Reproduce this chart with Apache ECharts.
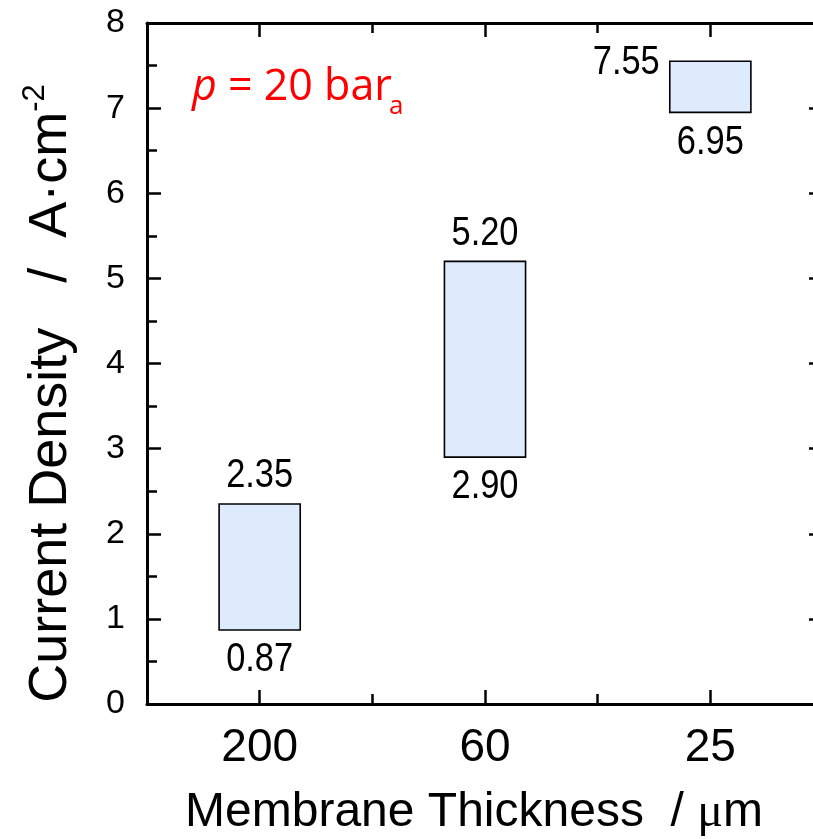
<!DOCTYPE html>
<html>
<head>
<meta charset="utf-8">
<script src="https://cdn.jsdelivr.net/npm/echarts@6/dist/echarts.min.js"></script>
<style>
  html, body { margin: 0; padding: 0; background: #fff; }
  #chart { width: 813px; height: 839px; }
</style>
</head>
<body>
<div id="chart"></div>
<script>
// Membrane thickness categories (µm) and the current-density window for each
const thickness = ['200', '60', '25'];
const lowerCD = [0.87, 2.90, 6.95];
const upperCD = [2.35, 5.20, 7.55];
const yTicks = [0, 1, 2, 3, 4, 5, 6, 7, 8];

const SANS = "'Liberation Sans', Arial, sans-serif";

const boxData = thickness.map((t, i) => [i, lowerCD[i], upperCD[i]]);

const chart = echarts.init(document.getElementById('chart'), null, { renderer: 'canvas' });

function axisLine() { return { show: true, onZero: false, lineStyle: { color: '#000', width: 3 } }; }
function noLine() { return { show: false, onZero: false }; }
function tick(len, extra) {
  return Object.assign({ show: true, inside: true, length: len, lineStyle: { color: '#000', width: 2.5 } }, extra || {});
}
function off() { return { show: false }; }

function fmt(v) { return v.toFixed(2); }

// condensed value label: regular sans squeezed horizontally
function valueLabel(text, x, y, align) {
  return {
    type: 'text', x: x, y: y, scaleX: 0.84,
    style: {
      text: text, x: 0, y: 0, align: align, verticalAlign: 'middle',
      font: '41px ' + SANS, fill: '#000'
    }
  };
}

function renderBox(params, api) {
  const idx = api.value(0);
  const lo = api.value(1);
  const hi = api.value(2);
  const pLo = api.coord([idx, lo]);
  const pHi = api.coord([idx, hi]);
  const band = api.size([1, 0])[0];
  const w = band * 0.36;
  const x0 = pLo[0] - w / 2;
  const children = [{
    type: 'rect',
    shape: { x: x0, y: pHi[1], width: w, height: pLo[1] - pHi[1] },
    style: { fill: '#deebfc', stroke: '#000', lineWidth: 1.6 }
  }];
  // upper limit sits above the box, or to its left when the box is close to the frame
  if (hi > 7) {
    children.push(valueLabel(fmt(hi), x0 - 10, pHi[1] + 1, 'right'));
  } else {
    children.push(valueLabel(fmt(hi), pHi[0], pHi[1] - 28, 'center'));
  }
  children.push(valueLabel(fmt(lo), pLo[0], pLo[1] + 30, 'center'));
  return { type: 'group', children: children };
}

// two grids on the same rectangle: grid 0 carries the frame, labels and major ticks,
// grid 1 only carries the short minor ticks
const gridBox = { left: 147, top: 23, width: 676, height: 681, show: false, outerBoundsMode: 'none', containLabel: false };
const yMin = yTicks[0];
const yMax = yTicks[yTicks.length - 1];

const option = {
  animation: false,
  backgroundColor: '#fff',
  grid: [Object.assign({}, gridBox), Object.assign({}, gridBox)],
  xAxis: [
    {
      gridIndex: 0, type: 'category', data: thickness, position: 'bottom', boundaryGap: true,
      axisLine: axisLine(),
      axisTick: tick(14, { alignWithLabel: true }),
      axisLabel: { fontSize: 46, color: '#000', fontFamily: SANS, margin: 21 },
      splitLine: off(),
      name: 'Membrane Thickness  / {mu|\u03bc}m',
      nameLocation: 'middle', nameGap: 85,
      nameTextStyle: {
        fontSize: 48, color: '#000', fontFamily: SANS, padding: [0, 22, 0, 0],
        rich: { mu: { fontSize: 48, color: '#000', fontFamily: "'Liberation Serif', 'Times New Roman', serif" } }
      }
    },
    {
      gridIndex: 0, type: 'category', data: thickness, position: 'top', boundaryGap: true,
      axisLine: axisLine(),
      axisTick: tick(14, { alignWithLabel: true }),
      axisLabel: off(), splitLine: off()
    },
    {
      gridIndex: 1, type: 'value', min: 0, max: 3, interval: 1, position: 'bottom',
      axisLine: noLine(), axisTick: tick(10), axisLabel: off(), splitLine: off()
    },
    {
      gridIndex: 1, type: 'value', min: 0, max: 3, interval: 1, position: 'top',
      axisLine: noLine(), axisTick: tick(10), axisLabel: off(), splitLine: off()
    }
  ],
  yAxis: [
    {
      gridIndex: 0, type: 'value', min: yMin, max: yMax, interval: 1, position: 'left',
      axisLine: axisLine(), axisTick: tick(14), splitLine: off(),
      axisLabel: { fontSize: 34, color: '#000', fontFamily: SANS, margin: 22 },
      name: 'Current Density   /  A\u00b7cm{sup|-2}',
      nameLocation: 'middle', nameRotate: 90, nameGap: 64,
      nameTextStyle: {
        fontSize: 54, color: '#000', fontFamily: SANS, padding: [0, 60, 0, 0],
        rich: { sup: { fontSize: 31, color: '#000', fontFamily: SANS, padding: [0, 0, 32, 0] } }
      }
    },
    {
      gridIndex: 0, type: 'value', min: yMin, max: yMax, interval: 1, position: 'right',
      axisLine: axisLine(), axisTick: tick(14), axisLabel: off(), splitLine: off()
    },
    {
      gridIndex: 1, type: 'value', min: yMin, max: yMax, interval: 0.5, position: 'left',
      axisLine: noLine(), axisTick: tick(10), axisLabel: off(), splitLine: off()
    },
    {
      gridIndex: 1, type: 'value', min: yMin, max: yMax, interval: 0.5, position: 'right',
      axisLine: noLine(), axisTick: tick(10), axisLabel: off(), splitLine: off()
    }
  ],
  graphic: [
    {
      type: 'text', left: 192, top: 66,
      style: {
        text: '{i|p} = 20 bar',
        font: "43px 'Open Sans', sans-serif", fill: '#ff0000',
        rich: { i: { fontStyle: 'italic', fontSize: 43, fontFamily: "'Open Sans', sans-serif", fill: '#ff0000' } }
      }
    },
    {
      type: 'text', left: 389, top: 94,
      style: { text: 'a', font: "26px 'Open Sans', sans-serif", fill: '#ff0000' }
    }
  ],
  series: [
    {
      type: 'custom', xAxisIndex: 0, yAxisIndex: 0,
      renderItem: renderBox,
      encode: { x: 0, y: [1, 2] },
      data: boxData,
      clip: false
    }
  ]
};

chart.setOption(option);
</script>
</body>
</html>
